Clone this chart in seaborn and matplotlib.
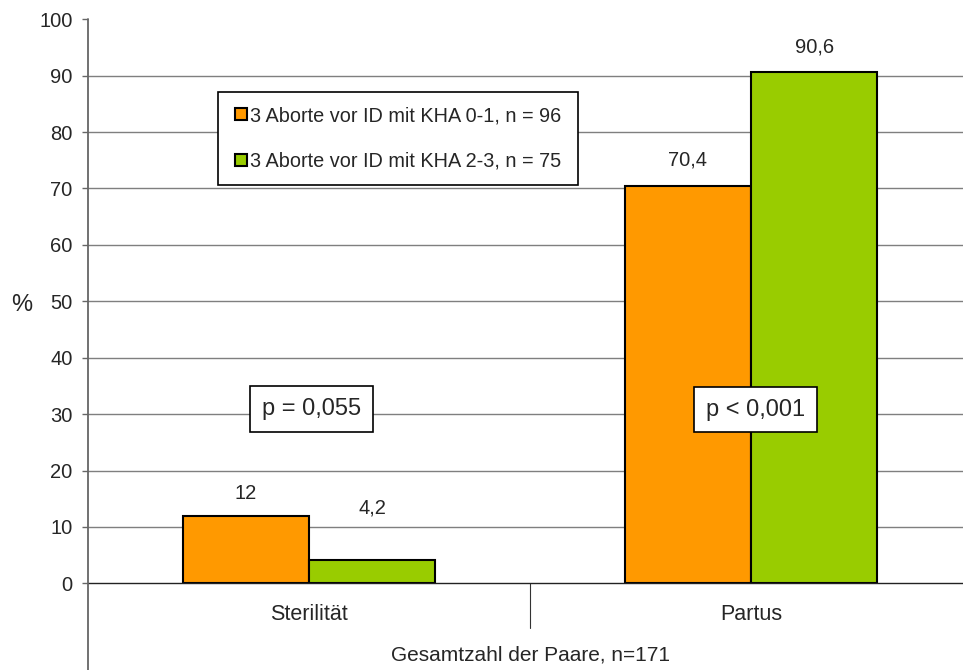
import matplotlib
matplotlib.use("Agg")
import matplotlib.pyplot as plt
import seaborn as sns
import pandas as pd
from matplotlib.patches import Patch, Rectangle
from matplotlib.legend_handler import HandlerPatch

categories = ["Sterilität", "Partus"]
groups = ["3 Aborte vor ID mit KHA 0-1, n = 96", "3 Aborte vor ID mit KHA 2-3, n = 75"]
values_khA01 = [12.0, 70.4]
values_khA23 = [4.2, 90.6]
value_labels_01 = ["12", "70,4"]
value_labels_23 = ["4,2", "90,6"]
p_labels = ["p = 0,055", "p < 0,001"]
y_ticks = [0, 10, 20, 30, 40, 50, 60, 70, 80, 90, 100]
colors = ["#FF9900", "#99CC00"]

df = pd.DataFrame({
    "cat": categories * 2,
    "grp": [groups[0]] * 2 + [groups[1]] * 2,
    "val": values_khA01 + values_khA23,
})

sns.set_style("white")
plt.rcParams["font.family"] = ["Liberation Sans", "DejaVu Sans"]

fig = plt.figure(figsize=(9.63, 6.70), dpi=100)
ax = fig.add_axes([88 / 963, 0.1294, (972 - 88) / 963, 0.9712 - 0.1294])

sns.barplot(data=df, x="cat", y="val", hue="grp", palette=colors, width=0.572,
            edgecolor="black", linewidth=1.5, saturation=1, ax=ax, legend=False,
            zorder=3)

ax.set_xlim(-0.5, 1.5)
ax.set_ylim(0, 100)
ax.set_yticks(y_ticks)
ax.set_yticklabels([str(t) for t in y_ticks], fontsize=14.5)
ax.tick_params(axis="y", length=4, width=1, color="#666666", pad=7, direction="out", left=True)
ax.tick_params(axis="x", length=0, pad=15, labelsize=15.5)
ax.set_xlabel("")
ax.set_ylabel("")

# gridlines
for t in y_ticks[1:-1]:
    ax.axhline(t, color="#7f7f7f", lw=1, zorder=1)

for s in ["top", "right"]:
    ax.spines[s].set_visible(False)
ax.spines["bottom"].set_color("#222222")
ax.spines["bottom"].set_linewidth(1)
ax.spines["bottom"].set_zorder(4)
ax.spines["left"].set_visible(False)
# y axis line extending below the plot
ax.plot([0, 0], [1.0, -0.16], transform=ax.transAxes, clip_on=False,
        color="#666666", lw=1.3, zorder=5)
# category separator
ax.plot([0.5, 0.5], [0, -0.079], transform=ax.transAxes, clip_on=False,
        color="#333333", lw=0.8)

# value labels (baseline offsets in points)
label_lists = [value_labels_01, value_labels_23]
offsets = [[12.2, 15], [33.5, 14.4]]
for ci, cont in enumerate(ax.containers):
    for bi, patch in enumerate(cont.patches):
        x = patch.get_x() + patch.get_width() / 2
        h = patch.get_height()
        ax.annotate(label_lists[ci][bi], (x, h), xytext=(0, offsets[ci][bi]),
                    textcoords="offset points", ha="center", va="baseline", fontsize=14.5)

# p-value boxes
p_pos = [(0.005, 30.9), (1.011, 30.8)]
for (px, py), lab in zip(p_pos, p_labels):
    ax.text(px, py, lab, ha="center", va="center", fontsize=17, zorder=6,
            bbox=dict(boxstyle="square,pad=0.5", facecolor="white", edgecolor="black", lw=1.2))

# secondary x label and y label
ax.text(0.5, -0.127, "Gesamtzahl der Paare, n=171", transform=ax.transAxes,
        ha="center", va="center", fontsize=15)
ax.text(-0.0747, 0.493, "%", transform=ax.transAxes, ha="center", va="center", fontsize=17)


def square_patch(legend, orig_handle, xdescent, ydescent, width, height, fontsize):
    size = height
    return Rectangle((-xdescent + 2.0, -ydescent), size, size)


handles = [Patch(facecolor=c, edgecolor="black", lw=1.5) for c in colors]
leg = ax.legend(handles, groups, loc="upper left", bbox_to_anchor=(0.147, 0.871, 0.407, 0),
                mode="expand", borderaxespad=0, fontsize=14.3, frameon=True, fancybox=False,
                edgecolor="black", framealpha=1, handlelength=0.72, handleheight=0.54,
                handletextpad=0.15, labelspacing=1.33, borderpad=0.72,
                handler_map={Patch: HandlerPatch(patch_func=square_patch)})
leg.get_frame().set_linewidth(1.2)
leg.set_zorder(7)

fig.savefig("out.png", dpi=100)
